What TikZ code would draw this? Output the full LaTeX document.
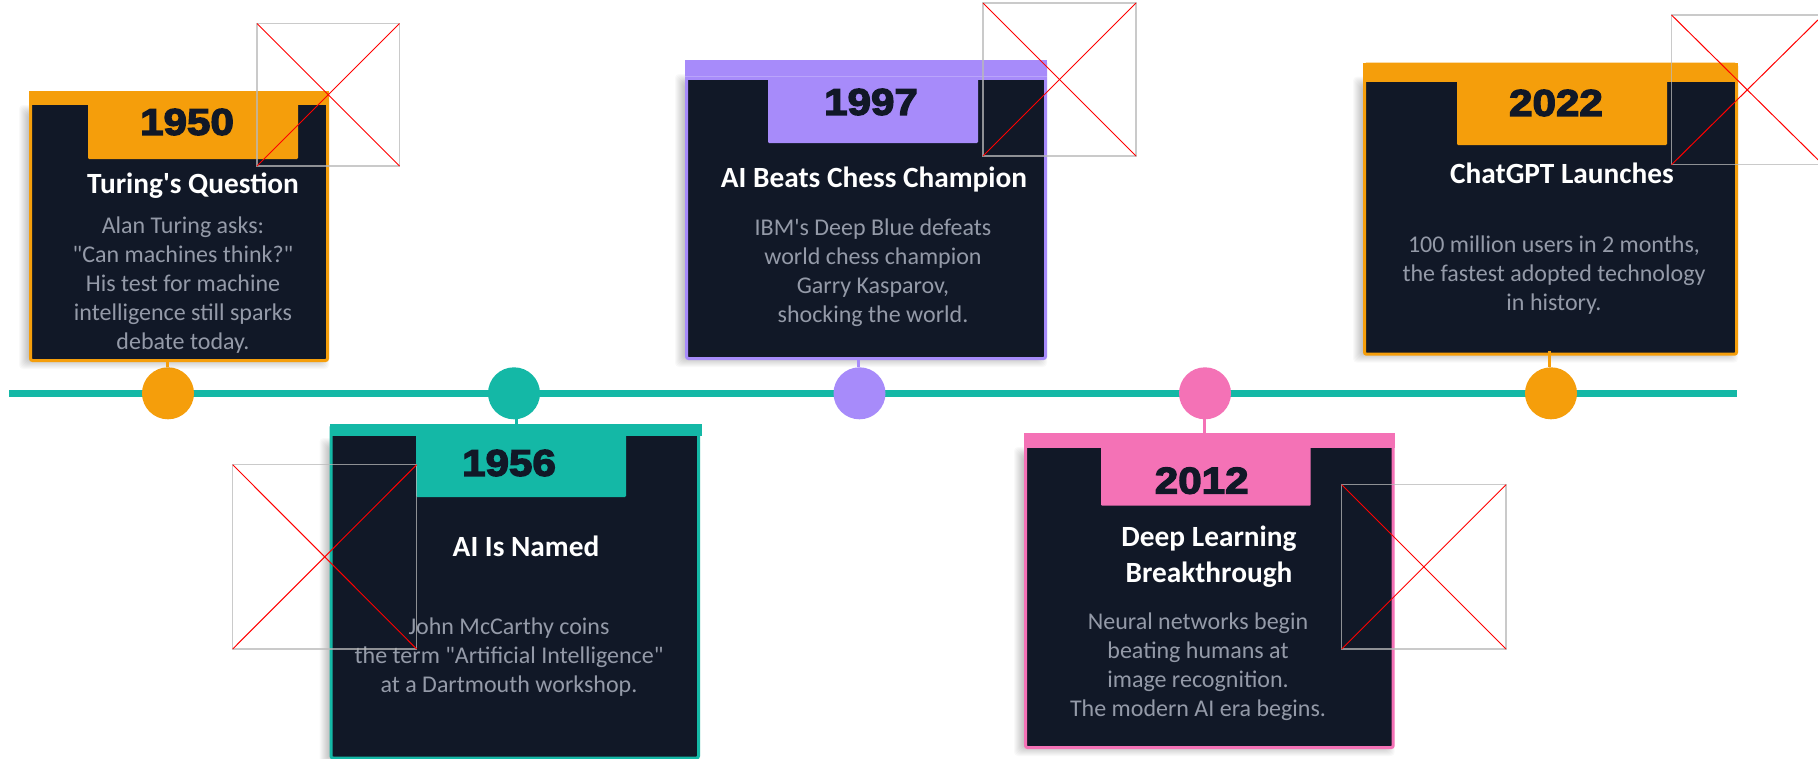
\documentclass[tikz,border=0pt]{standalone}
\usepackage{fontspec}
\newfontfamily\cardfam{Carlito}
\newfontfamily\yearfam[BoldFeatures={FakeBold=3.6,FakeStretch=1.13}]{Liberation Sans}
\definecolor{cOrange}{HTML}{F59E0B}
\definecolor{cTeal}{HTML}{14B8A6}
\definecolor{cPurple}{HTML}{A78BFA}
\definecolor{cPink}{HTML}{F472B6}
\definecolor{cDark}{HTML}{111827}
\definecolor{cBody}{HTML}{949AA8}
\definecolor{cFrame}{HTML}{B9B9B9}
\tikzset{
  cardbox/.style={rectangle,rounded corners=1.5pt,line width=2.25pt,fill=cDark,inner sep=0,outer sep=0},
  bandbox/.style={rectangle,inner sep=0,outer sep=0},
  tabbox/.style={rectangle,rounded corners=0.8pt,inner sep=0,outer sep=0,minimum width=157.5pt},
  yeartext/.style={font=\yearfam\bfseries\fontsize{28}{30}\selectfont,text=cDark,inner sep=0},
  titletext/.style={font=\cardfam\bfseries\fontsize{22}{26.8}\selectfont,text=white,align=center,inner sep=0},
  bodytext/.style={font=\cardfam\fontsize{18}{21.8}\selectfont,text=cBody,align=center,inner sep=0},
  dotnode/.style={circle,minimum size=39pt,inner sep=0,outer sep=0},
  linkline/.style={line width=2.25pt},
  frame/.style={rectangle,draw=cFrame,draw opacity=.75,line width=.9pt,inner sep=0,outer sep=0},
  crossline/.style={draw=red,line width=.75pt},
}
% id colour L T R B bandHeight bandRight
\newcommand{\cardshell}[8]{%
  \foreach \s in {0,...,10}
    \fill[black,opacity=.024,rounded corners=3pt] ({#3-\s},{#4+24-\s}) rectangle ({#5-10+\s},{#6-3+\s});
  \node[cardbox,draw=#2,minimum width={(#5-#3-3)*.75pt},minimum height={(#6-#4-3)*.75pt}] (card#1) at ({(#3+#5)/2},{(#4+#6)/2}) {};
  \node[bandbox,fill=#2,anchor=north west,minimum width={(#8-#3)*.75pt},minimum height={#7*.75pt}] (band#1) at (#3,#4) {};
}
% id colour L R T B
\newcommand{\cardtab}[6]{%
  \node[tabbox,fill=#2,minimum width={(#4-#3)*.75pt},minimum height={(#6-#5)*.75pt}] (tab#1) at ({(#3+#4)/2},{(#5+#6)/2}) {};
}
% id L T R B
\newcommand{\placeholder}[5]{%
  \node[frame,minimum width={(#4-#2)*.75pt},minimum height={(#5-#3)*.75pt}] (img#1) at ({(#2+#4)/2},{(#3+#5)/2}) {};
  \draw[crossline] (img#1.north west) -- (img#1.south east);
  \draw[crossline] (img#1.north east) -- (img#1.south west);
}
\begin{document}
\begin{tikzpicture}[x=.75pt,y=-.75pt]
\useasboundingbox (0,0) rectangle (1818,758);
\clip (0,0) rectangle (1818,758);
\fill[white] (0,0) rectangle (1818,758);
% timeline
\coordinate (lineA) at (9,393.3);
\coordinate (lineB) at (1737,393.3);
\draw[cTeal,line width=5.25pt] (lineA) -- (lineB);
% dots
\node[dotnode,fill=cOrange] (dot1) at (168,393.3) {};
\node[dotnode,fill=cTeal]   (dot2) at (514,393.3) {};
\node[dotnode,fill=cPurple] (dot3) at (859.5,393.3) {};
\node[dotnode,fill=cPink]   (dot4) at (1205,393.3) {};
\node[dotnode,fill=cOrange] (dot5) at (1551,393.3) {};
% cards
\cardshell{1}{cOrange}{29}{91}{329}{362}{14}{329}
\cardtab{1}{cOrange}{88}{298}{100}{159}
\cardshell{2}{cTeal}{329.5}{424}{700}{759.5}{12.3}{702}
\cardtab{2}{cTeal}{416}{626}{430}{497}
\cardshell{3}{cPurple}{685}{60}{1047}{360}{20}{1047}
\cardtab{3}{cPurple}{768}{978}{75}{143}
\coordinate (seamA) at (685,76.7);
\coordinate (seamB) at (1047,76.7);
\draw[white,opacity=.22,line width=.75pt] (seamA) -- (seamB);
\cardshell{4}{cPink}{1024}{433}{1394.7}{749}{14.7}{1394.7}
\cardtab{4}{cPink}{1101}{1310.7}{440}{505.7}
\cardshell{5}{cOrange}{1363}{62.7}{1738}{355.7}{19}{1738}
\cardtab{5}{cOrange}{1457}{1667}{75}{145}
% connectors
\coordinate (k1) at (167.3,358);
\coordinate (k2) at (516.3,358);
\coordinate (k3) at (858.7,358);
\coordinate (k4) at (1204,358);
\coordinate (k5) at (1549.7,351);
\draw[linkline,cOrange] (k1 |- card1.south) -- (k1 |- dot1.north);
\draw[linkline,cTeal] (k2 |- dot2.south) -- (k2 |- card2.north);
\draw[linkline,cPurple] (k3 |- card3.south) -- (k3 |- dot3.north);
\draw[linkline,cPink] (k4 |- dot4.south) -- (k4 |- card4.north);
\draw[linkline,cOrange] (k5) -- (k5 |- dot5.north);
% years
\node[yeartext] (year1) at (187,122) {1950};
\node[yeartext] (year2) at (509,463) {1956};
\node[yeartext] (year3) at (871,102) {1997};
\node[yeartext] (year4) at (1201.7,480.7) {2012};
\node[yeartext] (year5) at (1556,103) {2022};
% titles
\node[titletext] (title1) at (193,186) {Turing's Question};
\node[titletext] (title2) at (526,546) {AI Is Named};
\node[titletext] (title3) at (874,179.5) {AI Beats Chess Champion};
\node[titletext] (title4) at (1209,557) {Deep Learning\\Breakthrough};
\node[titletext] (title5) at (1562,173.5) {ChatGPT Launches};
% bodies
\node[bodytext] (body1) at (183,285) {Alan Turing asks:\\"Can machines think?"\\His test for machine\\intelligence still sparks\\debate today.};
\node[bodytext] (body2) at (509,657) {John McCarthy coins\\the term "Artificial Intelligence"\\at a Dartmouth workshop.};
\node[bodytext] (body3) at (873,272.5) {IBM's Deep Blue defeats\\world chess champion\\Garry Kasparov,\\shocking the world.};
\node[bodytext] (body4) at (1198,667) {Neural networks begin\\beating humans at\\image recognition.\\The modern AI era begins.};
\node[bodytext] (body5) at (1554,275) {100 million users in 2 months,\\the fastest adopted technology\\in history.};
% broken images
\placeholder{1}{257}{23.5}{399.5}{166}
\placeholder{2}{232.7}{464.7}{416.7}{649}
\placeholder{3}{983}{3}{1136}{156}
\placeholder{4}{1341.7}{484.7}{1506}{649}
\placeholder{5}{1671.5}{15}{1823}{164.7}
\end{tikzpicture}
\end{document}
